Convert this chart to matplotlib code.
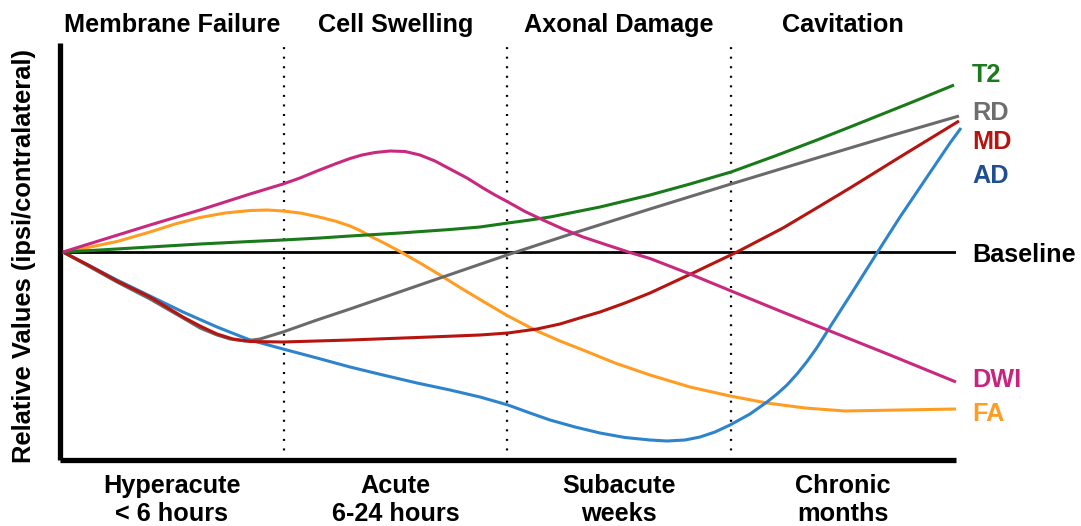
import matplotlib
matplotlib.use('Agg')
import matplotlib.pyplot as plt
from matplotlib.transforms import blended_transform_factory

plt.rcParams['font.family'] = ['Liberation Sans', 'DejaVu Sans']
plt.rcParams['font.weight'] = 'bold'

phases = ['Membrane Failure', 'Cell Swelling', 'Axonal Damage', 'Cavitation']
stages = ['Hyperacute\n< 6 hours', 'Acute\n6-24 hours', 'Subacute\nweeks', 'Chronic\nmonths']
STAGE = 223.6  # width of one stage on the (arbitrary) time axis

# arbitrary units: x = time, y = change relative to contralateral (0 = baseline)
t2_x = [3, 40, 90, 140, 190, 223, 260, 290, 340, 390, 420, 448, 470, 490, 515, 540, 565, 590, 630, 671, 715, 757, 790, 820, 855, 894]
t2_y = [0, 2, 5, 8, 10.5, 12, 14, 16, 19, 22.5, 25, 29, 32, 35, 40, 45, 51, 57, 68, 80, 96, 112, 125, 137, 151, 167]

rd_x = [3, 30, 57, 90, 123, 140, 157, 170, 185, 200, 223, 257, 290, 380, 450, 517, 590, 671, 760, 830, 899]
rd_y = [0, -15, -30, -47, -66, -76, -83, -87, -89, -87, -80, -68, -57, -26, -2, 20, 43, 68, 95, 116, 136]

md_x = [3, 30, 57, 90, 123, 140, 157, 173, 190, 223, 290, 370, 420, 448, 477, 500, 523, 540, 565, 590, 633, 677, 723, 760, 790, 840, 899]
md_y = [0, -14, -29, -45, -65, -74, -82, -87, -89.5, -90, -88, -85, -83, -81, -77, -72, -65, -60, -51, -41, -21, 0, 24, 46, 64, 95, 131]

ad_x = [3, 30, 57, 90, 123, 157, 190, 223, 257, 290, 323, 357, 390, 420, 448, 470, 490, 515, 540, 565,
        590, 607, 625, 640, 655, 670, 690, 707, 717, 727, 737, 747, 757, 770, 793, 817, 840, 865, 890, 901]
ad_y = [0, -14, -28, -44, -60, -75, -88, -97, -106, -115, -123, -131, -138, -145, -153, -161, -168, -175, -181, -185.5,
        -188, -189, -188, -185, -180, -173, -162, -150, -142, -133, -122, -109.5, -95.5, -75, -39, -1, 35, 72, 109, 124]

dwi_x = [3, 40, 90, 140, 190, 223, 240, 257, 275, 290, 302, 315, 330, 345, 360, 375, 390, 407, 423, 435, 448,
         465, 483, 503, 523, 547, 570, 590, 630, 670, 720, 770, 830, 896]
dwi_y = [0, 11.5, 27, 42, 58, 68, 74, 81, 88, 93.5, 97, 99.5, 101, 100.5, 97, 91, 83, 74, 64, 57, 50,
         40.5, 32, 23, 15, 7, -0.5, -6.5, -22, -38.5, -59, -79, -103, -130]

fa_x = [3, 23, 57, 90, 115, 140, 165, 190, 207, 223, 240, 257, 275, 290, 300, 310, 325, 340, 360, 380,
        400, 425, 448, 477, 500, 523, 555, 590, 630, 670, 707, 745, 785, 840, 896]
fa_y = [0, 3.5, 10.5, 20, 28, 34.5, 39, 41.5, 42, 41, 39, 35.5, 31, 26, 21.5, 16, 8.5, 0.5, -11, -23,
        -35.5, -50.5, -64, -79, -89, -98, -111, -123, -135, -144, -151, -156, -159, -158, -157]

names = ['FA', 'AD', 'RD', 'MD', 'T2', 'DWI']
xs = [fa_x, ad_x, rd_x, md_x, t2_x, dwi_x]
ys = [fa_y, ad_y, rd_y, md_y, t2_y, dwi_y]
line_colors = ['#ff9d23', '#2e84cc', '#6a6a6a', '#b5140f', '#187a18', '#c8297f']
label_colors = ['#ff9d23', '#1f4f8f', '#6e6e6e', '#b5140f', '#1b7a1b', '#c8237d']
label_y = [-169, 69, 132, 103, 170, -135]

fig = plt.figure(figsize=(10.81, 5.26), dpi=100)
ax = fig.add_axes([60 / 1081, 1 - 460 / 526, 896 / 1081, 417 / 526])
ax.set_xlim(0, 896)
ax.set_ylim(-208, 209)

for s in ['top', 'right']:
    ax.spines[s].set_visible(False)
for s in ['left', 'bottom']:
    ax.spines[s].set_linewidth(3.8)
    ax.spines[s].set_capstyle('butt')
ax.set_xticks([])
ax.set_yticks([])

for b in [1, 2, 3]:
    ax.axvline(b * STAGE, color='black', lw=1.6, linestyle=(0, (0.9, 3.4)), zorder=1)

ax.axhline(0, color='black', lw=2.0, zorder=2)

for x, y, c in zip(xs, ys, line_colors):
    ax.plot(x, y, color=c, lw=2.2, clip_on=False, solid_joinstyle='round',
            solid_capstyle='butt', zorder=3)

fs = 18.2
lx = 912
for n, c, yy in zip(names, label_colors, label_y):
    ax.text(lx, yy, n, color=c, fontsize=fs, fontweight='bold', va='baseline',
            ha='left', clip_on=False)
ax.text(lx, -10, 'Baseline', color='black', fontsize=fs, fontweight='bold',
        va='baseline', ha='left', clip_on=False)

trans = blended_transform_factory(ax.transData, fig.transFigure)
for i, p in enumerate(phases):
    ax.text((i + 0.5) * STAGE, 1 - 32 / 526, p, transform=trans, ha='center',
            va='baseline', fontsize=fs, fontweight='bold')
for i, s in enumerate(stages):
    ax.text((i + 0.5) * STAGE, 1 - 500 / 526, s, transform=trans, ha='center',
            va='center', fontsize=fs, fontweight='bold', linespacing=1.22)

fig.text(24 / 1081, 1 - 256 / 526, 'Relative Values (ipsi/contralateral)', rotation=90,
         ha='center', va='center', fontsize=18.4, fontweight='bold')

fig.savefig('out.png', dpi=100)
